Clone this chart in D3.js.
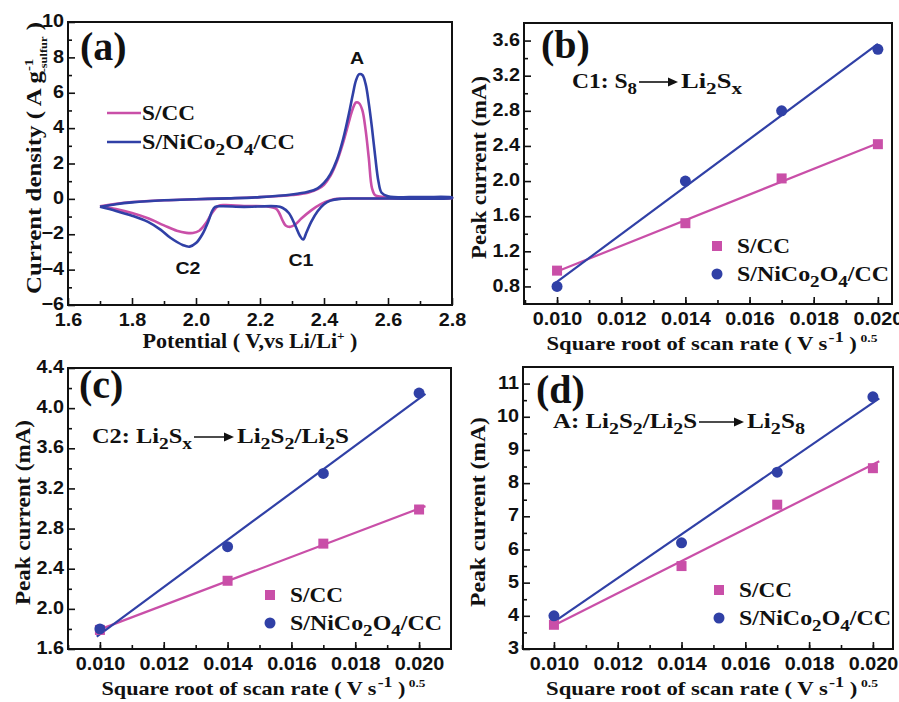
<!DOCTYPE html>
<html>
<head>
<meta charset="utf-8">
<script src="https://cdn.jsdelivr.net/npm/d3@7"></script>
<style>
  body { margin: 0; background: #fff; }
  svg { display: block; }
</style>
</head>
<body>
<svg id="chart" width="899" height="702"></svg>
<script>
// CV curves (a): [potential V, current density A/g], anodic up then cathodic down
const cvSCC = [
  [1.70,-0.42],[1.75,-0.28],[1.80,-0.18],[1.90,-0.08],[2.00,-0.02],[2.10,0.03],[2.20,0.10],
  [2.30,0.22],[2.35,0.35],[2.38,0.55],[2.40,0.80],[2.42,1.30],[2.44,2.10],[2.46,3.20],
  [2.48,4.50],[2.49,5.10],[2.50,5.45],[2.51,5.40],[2.52,5.00],[2.53,3.90],[2.54,2.30],
  [2.55,0.60],[2.56,0.20],[2.58,0.12],[2.65,0.08],[2.80,0.06],
  [2.80,0.04],[2.60,0.03],[2.50,0.02],[2.44,0.00],[2.42,-0.08],[2.39,-0.30],[2.36,-0.65],
  [2.33,-1.10],[2.31,-1.45],[2.295,-1.58],[2.28,-1.50],[2.27,-1.20],[2.26,-0.80],[2.25,-0.55],
  [2.22,-0.42],[2.15,-0.40],[2.09,-0.35],[2.07,-0.40],[2.05,-0.80],[2.03,-1.40],[2.01,-1.80],
  [1.99,-1.93],[1.97,-1.92],[1.94,-1.80],[1.90,-1.50],[1.85,-1.10],[1.80,-0.80],[1.75,-0.58],
  [1.70,-0.42]
];
const cvNiCo = [
  [1.70,-0.45],[1.75,-0.30],[1.80,-0.20],[1.90,-0.08],[2.00,-0.02],[2.10,0.03],[2.20,0.10],
  [2.30,0.25],[2.35,0.40],[2.38,0.60],[2.40,0.90],[2.42,1.40],[2.44,2.20],[2.46,3.40],
  [2.48,5.00],[2.49,5.90],[2.50,6.70],[2.51,7.05],[2.52,7.00],[2.53,6.50],[2.54,5.40],
  [2.55,4.00],[2.56,2.40],[2.57,1.00],[2.58,0.35],[2.60,0.15],[2.70,0.10],[2.80,0.08],
  [2.80,0.05],[2.60,0.03],[2.50,0.02],[2.45,0.00],[2.42,-0.10],[2.40,-0.30],[2.38,-0.70],
  [2.36,-1.30],[2.345,-1.90],[2.335,-2.30],[2.325,-2.10],[2.31,-1.50],[2.29,-0.80],[2.27,-0.50],
  [2.25,-0.42],[2.15,-0.45],[2.08,-0.42],[2.06,-0.45],[2.05,-0.70],[2.04,-1.20],[2.02,-2.00],
  [2.00,-2.50],[1.98,-2.70],[1.96,-2.62],[1.92,-2.20],[1.89,-1.75],[1.85,-1.30],[1.80,-0.95],
  [1.75,-0.68],[1.70,-0.45]
];
const cvXTicks = [1.6, 1.8, 2.0, 2.2, 2.4, 2.6, 2.8];
const cvYTicks = [-6, -4, -2, 0, 2, 4, 6, 8, 10];

// peak current vs square root of scan rate
const rateX = [0.010, 0.014, 0.017, 0.020];
const rateTicks = [0.010, 0.012, 0.014, 0.016, 0.018, 0.020];
const c1SCC = [0.98, 1.52, 2.03, 2.42];
const c1NiCo = [0.80, 2.00, 2.80, 3.50];
const c1YTicks = [0.8, 1.2, 1.6, 2.0, 2.4, 2.8, 3.2, 3.6];
const c2SCC = [1.79, 2.28, 2.65, 2.99];
const c2NiCo = [1.80, 2.62, 3.35, 4.15];
const c2YTicks = [1.6, 2.0, 2.4, 2.8, 3.2, 3.6, 4.0, 4.4];
const aSCC = [3.73, 5.50, 7.35, 8.45];
const aNiCo = [4.00, 6.20, 8.33, 10.60];
const aYTicks = [3, 4, 5, 6, 7, 8, 9, 10, 11];

const PINK = "#c94fa8", BLUE = "#3040a6";
const SERIF = "'Liberation Serif', 'Times New Roman', serif";
const SANS = "'Liberation Sans', Arial, sans-serif";

const svg = d3.select("#chart");

// the source figure is wider than tall, so text gets stretched sideways
function stretch(el, len) {
  el.attr("textLength", len).attr("lengthAdjust", "spacingAndGlyphs");
}

// text with sub/superscript parts: [string, "sub"|"sup", dx, size factor, raise]
function richText(g, x, y, parts, size, anchor, len) {
  var t = g.append("text").attr("x", x).attr("y", y)
    .attr("font-family", SERIF).attr("font-weight", "bold")
    .attr("font-size", size).attr("fill", "#111")
    .attr("text-anchor", anchor || "start");
  var shift = 0;
  parts.forEach(function(p) {
    var target = p[1] == "sub" ? size * 0.28 : (p[1] == "sup" ? -size * 0.38 : 0);
    if (p[4] !== undefined) target = -size * p[4];
    var s = t.append("tspan").text(p[0]).attr("dy", target - shift);
    if (p[2] !== undefined) s.attr("dx", p[2]);
    if (p[1]) s.attr("font-size", size * (p[3] || 0.8));
    shift = target;
  });
  stretch(t, len || t.node().getComputedTextLength() * 1.2);
  return t;
}

function arrow(g, x1, x2, y) {
  g.append("line").attr("x1", x1).attr("x2", x2 - 7).attr("y1", y).attr("y2", y)
    .attr("stroke", "#111").attr("stroke-width", 1.6);
  g.append("path").attr("d", "M" + x2 + "," + y + "l-10,-4.5l0,9z").attr("fill", "#111");
}

function fit(xs, ys) {
  var mx = d3.mean(xs), my = d3.mean(ys);
  var sxy = d3.sum(xs, function(x, i) { return (x - mx) * (ys[i] - my); });
  var sxx = d3.sum(xs, function(x) { return (x - mx) * (x - mx); });
  var k = sxy / sxx;
  return function(x) { return my + k * (x - mx); };
}

// one framed panel with inward ticks
function panel(o) {
  var g = svg.append("g");
  var x = d3.scaleLinear().domain(o.xDomain).range([o.l, o.r]);
  var y = d3.scaleLinear().domain(o.yDomain).range([o.b, o.t]);

  var ax = g.append("g").attr("transform", "translate(0," + o.b + ")")
    .call(d3.axisBottom(x).tickValues(o.xTicks).tickSizeInner(-7).tickSizeOuter(0)
      .tickPadding(8).tickFormat(o.xFmt));
  g.append("g").attr("transform", "translate(0," + o.b + ")")
    .call(d3.axisBottom(x).tickValues(o.xMinor).tickSizeInner(-4).tickSizeOuter(0).tickFormat(""));
  var ay = g.append("g").attr("transform", "translate(" + o.l + ",0)")
    .call(d3.axisLeft(y).tickValues(o.yTicks).tickSizeInner(-7).tickSizeOuter(0)
      .tickPadding(4).tickFormat(o.yFmt));
  g.append("g").attr("transform", "translate(" + o.l + ",0)")
    .call(d3.axisLeft(y).tickValues(o.yMinor).tickSizeInner(-4).tickSizeOuter(0).tickFormat(""));

  g.selectAll(".domain").remove();
  g.selectAll(".tick line").attr("stroke", "#111").attr("stroke-width", 1.6);
  g.selectAll(".tick text").attr("font-family", SANS).attr("font-weight", "bold")
    .attr("font-size", 18).attr("fill", "#111")
    .each(function() { stretch(d3.select(this), this.getComputedTextLength() * 1.1); });
  ax.selectAll(".tick text").attr("dy", "0.72em");
  ay.selectAll(".tick text").attr("dy", "0.26em");

  g.append("rect").attr("x", o.l).attr("y", o.t).attr("width", o.r - o.l).attr("height", o.b - o.t)
    .attr("fill", "none").attr("stroke", "#111").attr("stroke-width", 2);

  // panel letter
  g.append("text").attr("x", o.tag[1]).attr("y", o.tag[2]).text(o.tag[0])
    .attr("font-family", SERIF).attr("font-weight", "bold").attr("font-size", 40).attr("fill", "#111");
  return { g: g, x: x, y: y };
}

function minorRange(a, b, step) {
  return d3.range(Math.round((b - a) / step) + 1).map(function(i) { return +(a + i * step).toFixed(5); });
}

// ---------- (a) CV ----------
var pa = panel({
  l: 68, r: 452, t: 22, b: 305,
  xDomain: [1.6, 2.8], yDomain: [-6, 10],
  xTicks: cvXTicks, xMinor: minorRange(1.7, 2.7, 0.2), xFmt: d3.format(".1f"),
  yTicks: cvYTicks, yMinor: minorRange(-5, 9, 2), yFmt: d3.format("d"),
  tag: ["(a)", 80, 60]
});
var cvLine = d3.line().x(function(d) { return pa.x(d[0]); }).y(function(d) { return pa.y(d[1]); })
  .curve(d3.curveCatmullRom.alpha(0.5));
pa.g.append("path").attr("d", cvLine(cvSCC)).attr("fill", "none").attr("stroke", PINK).attr("stroke-width", 2.6);
pa.g.append("path").attr("d", cvLine(cvNiCo)).attr("fill", "none").attr("stroke", BLUE).attr("stroke-width", 2.6);

[["A", 357, 64], ["C2", 188, 274], ["C1", 301, 266]].forEach(function(p) {
  var t = pa.g.append("text").attr("x", p[1]).attr("y", p[2]).text(p[0]).attr("text-anchor", "middle")
    .attr("font-family", SANS).attr("font-weight", "bold").attr("font-size", 17).attr("fill", "#111");
  stretch(t, t.node().getComputedTextLength() * 1.15);
});

// legend (a)
[[PINK, 113, [["S/CC"]], 53], [BLUE, 142, [["S/NiCo"], ["2", "sub"], ["O"], ["4", "sub"], ["/CC"]], 153]]
  .forEach(function(l) {
    pa.g.append("line").attr("x1", 107).attr("x2", 141).attr("y1", l[1]).attr("y2", l[1])
      .attr("stroke", l[0]).attr("stroke-width", 2.6);
    richText(pa.g, 142, l[1] + 7, l[2], 21, "start", l[3]);
  });

richText(svg, 250, 348, [["Potential ( V,vs Li/Li"], ["+", "sup", undefined, 0.6], [" )"]], 20, "middle", 215);
var ya = svg.append("g").attr("transform", "translate(41,158) rotate(-90)");
richText(ya, 0, 0, [["Current density ( A g"], ["-1", "sup", undefined, 0.6],
  ["-sulfur", "sub", -11, 0.5], [" )"]], 20, "middle", 272);

// ---------- rate panels ----------
function ratePanel(o, scc, nico, note) {
  var p = panel(o);
  [[scc, PINK], [nico, BLUE]].forEach(function(s) {
    var f = fit(rateX, s[0]);
    p.g.append("line").attr("x1", p.x(0.0099)).attr("x2", p.x(o.fitEnd))
      .attr("y1", p.y(f(0.0099))).attr("y2", p.y(f(o.fitEnd)))
      .attr("stroke", s[1]).attr("stroke-width", 2.2);
  });
  p.g.selectAll(".sq").data(scc).enter().append("rect")
    .attr("x", function(d, i) { return p.x(rateX[i]) - 5; })
    .attr("y", function(d) { return p.y(d) - 5; })
    .attr("width", 10).attr("height", 10).attr("fill", PINK);
  p.g.selectAll(".dot").data(nico).enter().append("circle")
    .attr("cx", function(d, i) { return p.x(rateX[i]); })
    .attr("cy", function(d) { return p.y(d); })
    .attr("r", 5.5).attr("fill", BLUE);

  // legend
  var lx = o.leg[0], ly = o.leg[1];
  p.g.append("rect").attr("x", lx - 5).attr("y", ly - 5).attr("width", 10).attr("height", 10).attr("fill", PINK);
  p.g.append("circle").attr("cx", lx).attr("cy", ly + 28).attr("r", 5.5).attr("fill", BLUE);
  richText(p.g, lx + 20, ly + 7, [["S/CC"]], 21, "start", 53);
  richText(p.g, lx + 20, ly + 35, [["S/NiCo"], ["2", "sub"], ["O"], ["4", "sub"], ["/CC"]], 21, "start", 152);

  // reaction note
  richText(p.g, note.x, note.y, note.left, 20, "start", note.w[0]);
  var ax0 = note.x + note.w[0] + 2;
  arrow(p.g, ax0, ax0 + note.w[1], note.y - 6);
  richText(p.g, ax0 + note.w[1] + 3, note.y, note.right, 20, "start", note.w[2]);

  // axis titles
  richText(svg, (o.l + o.r) / 2 + 4, o.b + 46,
    [["Square root of scan rate ( V s"], ["-1", "sup", 1, 0.8, 0.4], [" )", null, undefined, 1, 0],
     ["0.5", "sup", 3, 0.6, 0.42]], 19, "middle", o.titles[0]);
  var yt = svg.append("g").attr("transform", "translate(" + (o.l - 38) + "," + ((o.t + o.b) / 2 + 4) + ") rotate(-90)");
  richText(yt, 0, 0, [["Peak current (mA)"]], 21, "middle", o.titles[1]);
  return p;
}

var rateMinor = minorRange(0.009, 0.020, 0.001);

ratePanel({
  l: 524, r: 892, t: 23, b: 304,
  xDomain: [0.00897, 0.02044], yDomain: [0.6, 3.8],
  xTicks: rateTicks, xMinor: rateMinor, xFmt: d3.format(".3f"),
  yTicks: c1YTicks, yMinor: minorRange(1.0, 3.4, 0.4), yFmt: d3.format(".1f"),
  tag: ["(b)", 541, 58], leg: [717, 246], fitEnd: 0.0200, titles: [331, 183]
}, c1SCC, c1NiCo, {
  x: 572, y: 88, w: [65, 39, 61],
  left: [["C1: S"], ["8", "sub"]],
  right: [["Li"], ["2", "sub"], ["S"], ["x", "sub"]]
});

ratePanel({
  l: 68, r: 451, t: 368, b: 649,
  xDomain: [0.009, 0.021], yDomain: [1.6, 4.4],
  xTicks: rateTicks, xMinor: rateMinor, xFmt: d3.format(".3f"),
  yTicks: c2YTicks, yMinor: minorRange(1.8, 4.2, 0.4), yFmt: d3.format(".1f"),
  tag: ["(c)", 79, 398], leg: [270, 595], fitEnd: 0.0202, titles: [324, 185]
}, c2SCC, c2NiCo, {
  x: 92, y: 443, w: [100, 40, 112],
  left: [["C2: Li"], ["2", "sub"], ["S"], ["x", "sub"]],
  right: [["Li"], ["2", "sub"], ["S"], ["2", "sub"], ["/Li"], ["2", "sub"], ["S"]]
});

ratePanel({
  l: 523, r: 893, t: 367, b: 649,
  xDomain: [0.00903, 0.02063], yDomain: [3, 11.5],
  xTicks: rateTicks, xMinor: rateMinor, xFmt: d3.format(".3f"),
  yTicks: aYTicks, yMinor: minorRange(3.5, 10.5, 1), yFmt: d3.format("d"),
  tag: ["(d)", 536, 403], leg: [719, 590], fitEnd: 0.0202, titles: [332, 190]
}, aSCC, aNiCo, {
  x: 553, y: 428, w: [144, 45, 58],
  left: [["A: Li"], ["2", "sub"], ["S"], ["2", "sub"], ["/Li"], ["2", "sub"], ["S"]],
  right: [["Li"], ["2", "sub"], ["S"], ["8", "sub"]]
});
</script>
</body>
</html>
